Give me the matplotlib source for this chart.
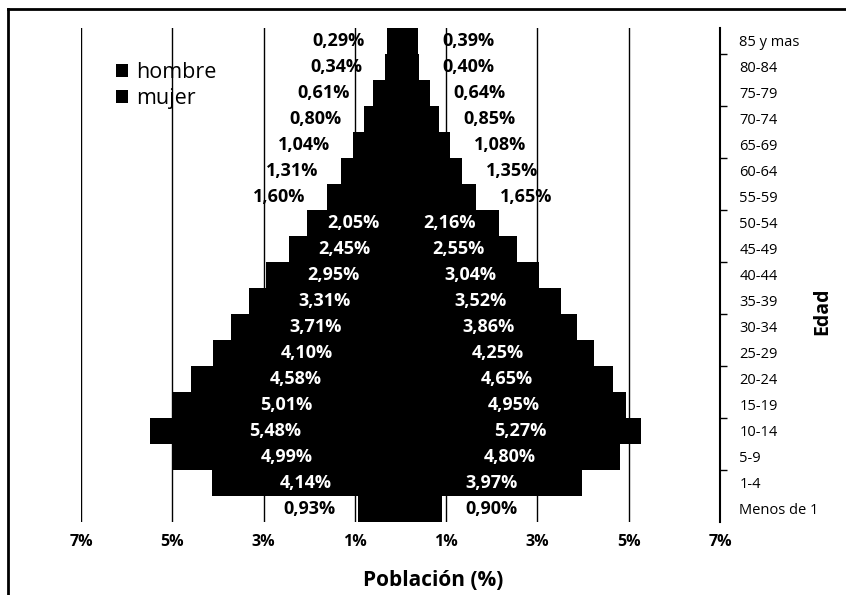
import numpy as np
import matplotlib.pyplot as plt
from matplotlib.lines import Line2D

# Age groups (top to bottom) and population shares in %
edades = ['85 y mas', '80-84', '75-79', '70-74', '65-69', '60-64', '55-59',
          '50-54', '45-49', '40-44', '35-39', '30-34', '25-29', '20-24',
          '15-19', '10-14', '5-9', '1-4', 'Menos de 1']
hombre = [0.29, 0.34, 0.61, 0.80, 1.04, 1.31, 1.60, 2.05, 2.45, 2.95, 3.31,
          3.71, 4.10, 4.58, 5.01, 5.48, 4.99, 4.14, 0.93]
mujer = [0.39, 0.40, 0.64, 0.85, 1.08, 1.35, 1.65, 2.16, 2.55, 3.04, 3.52,
         3.86, 4.25, 4.65, 4.95, 5.27, 4.80, 3.97, 0.90]
xticks = [-7, -5, -3, -1, 1, 3, 5, 7]

plt.rcParams['font.family'] = ['Open Sans', 'DejaVu Sans']

W, H = 846, 595
fig = plt.figure(figsize=(W / 100, H / 100), dpi=100)
ax = fig.add_axes([81 / W, 1 - 522 / H, 639 / W, 494 / H])

y = np.arange(len(edades))
h = np.array(hombre)
m = np.array(mujer)

ax.barh(y, -h, height=1.0, color='black', label='hombre', zorder=2)
ax.barh(y, m, height=1.0, color='black', label='mujer', zorder=2)

ax.set_xlim(-7, 7)
ax.set_ylim(len(edades) - 0.5, -0.5)

# data labels: centered (white) for wide bars, outside (black) for narrow
for yi, v in zip(y, h):
    txt = f'{v:.2f}%'.replace('.', ',')
    if v >= 2:
        ax.text(-v / 2, yi, txt, ha='center', va='center', color='white',
                fontsize=13, fontweight='bold', zorder=3)
    else:
        ax.annotate(txt, (-v, yi), xytext=(-35, 0), textcoords='offset points',
                    ha='center', va='center', fontsize=13, fontweight='bold',
                    zorder=3)
for yi, v in zip(y, m):
    txt = f'{v:.2f}%'.replace('.', ',')
    if v >= 2:
        ax.text(v / 2, yi, txt, ha='center', va='center', color='white',
                fontsize=13, fontweight='bold', zorder=3)
    else:
        ax.annotate(txt, (v, yi), xytext=(36, 0), textcoords='offset points',
                    ha='center', va='center', fontsize=13, fontweight='bold',
                    zorder=3)

# x axis
ax.set_xticks(xticks)
ax.set_xticklabels([f'{abs(t)}%' for t in xticks], fontsize=11.5, fontweight='bold')
ax.tick_params(axis='x', length=0, pad=9)
ax.grid(axis='x', color='black', linewidth=1.0, zorder=0)

# category axis on the right
ax.yaxis.tick_right()
ax.set_yticks(y)
ax.set_yticklabels(edades, fontsize=10.5)
ax.set_yticks(np.arange(0.5, len(edades) - 1, 2), minor=True)
ax.tick_params(axis='y', which='major', length=0, pad=14)
ax.tick_params(axis='y', which='minor', length=5, width=1, direction='out')

for s in ['left', 'top', 'bottom']:
    ax.spines[s].set_visible(False)
ax.spines['right'].set_linewidth(1.5)

fig.text(433 / W, 1 - 580 / H, 'Población (%)', ha='center', va='center',
         fontsize=15, fontweight='bold')
fig.text(822 / W, 1 - 311 / H, 'Edad', ha='center', va='center',
         rotation=90, fontsize=14, fontweight='bold')

fig.legend(loc='upper left', bbox_to_anchor=(116 / W, 1 - 62 / H),
           frameon=False, fontsize=15.5, handlelength=0.55, handleheight=0.55,
           handletextpad=0.4, labelspacing=0.22, borderpad=0, borderaxespad=0)

# outer frame (left and top edges visible in the scan)
fig.add_artist(Line2D([8 / W, 8 / W], [0, 1 - 9 / H], color='black', linewidth=2))
fig.add_artist(Line2D([8 / W, 1], [1 - 9 / H, 1 - 9 / H], color='black', linewidth=2))

fig.savefig('out.png', dpi=100)
